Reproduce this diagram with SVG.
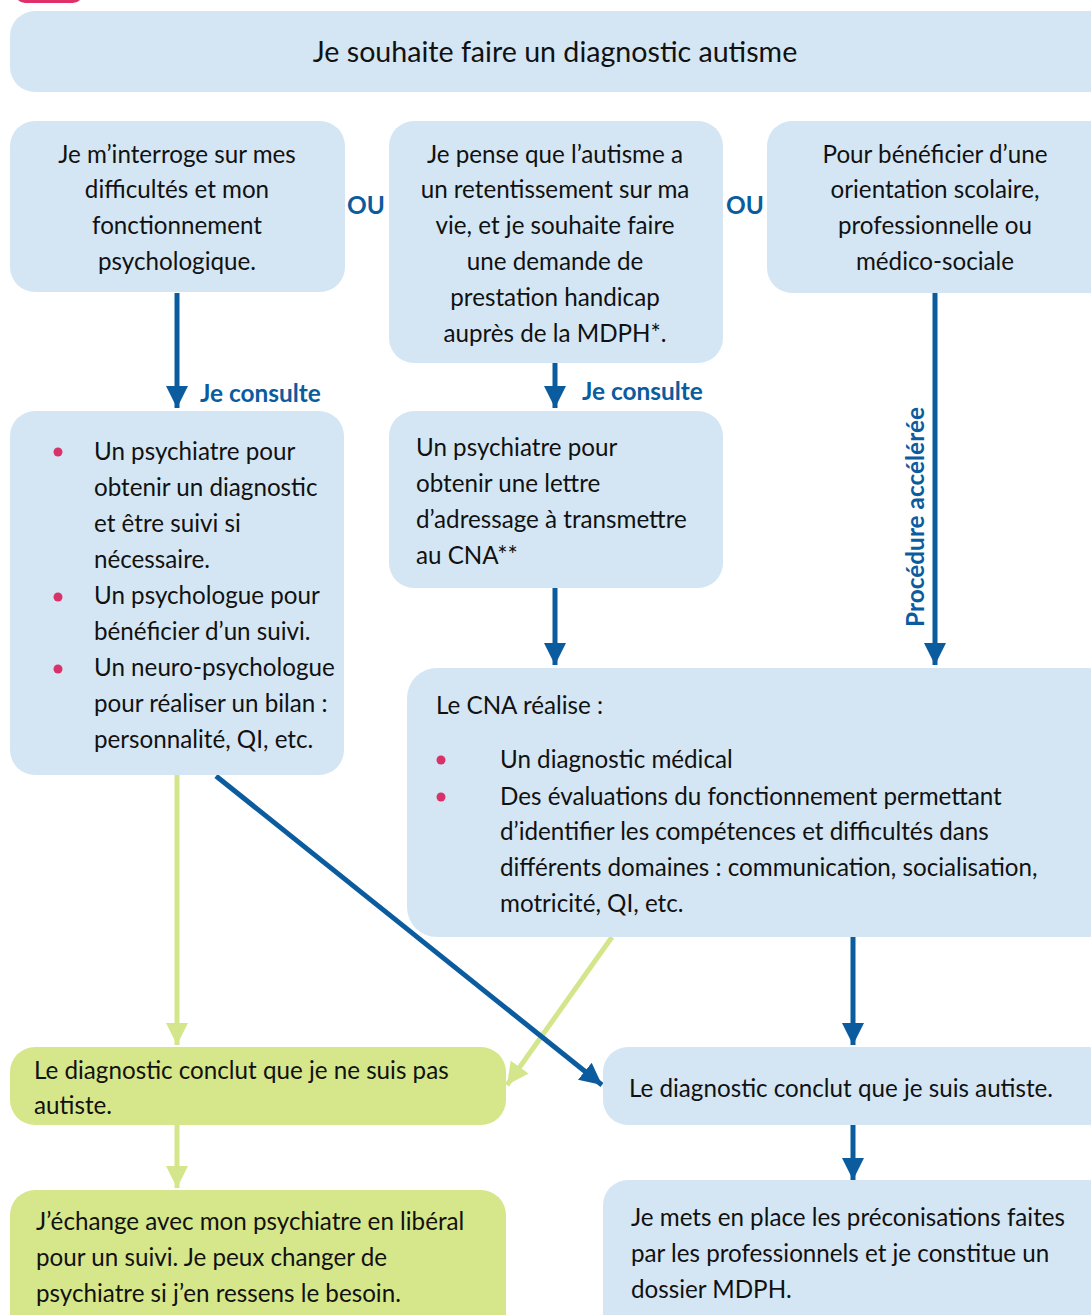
<svg xmlns="http://www.w3.org/2000/svg" width="1091" height="1315" viewBox="0 0 1091 1315">
<style>
.b{fill:#d4e6f4}
.g{fill:#d6e68a}
.t{font-family:Lato,"Liberation Sans",sans-serif;font-size:24.2px;fill:#111}
.c{text-anchor:middle}
.lbl{font-family:Lato,"Liberation Sans",sans-serif;font-size:24.4px;font-weight:bold;fill:#0b5c9e}
.db{stroke:#0b5c9e;stroke-width:5;fill:none}
.lg{stroke:#d4e68c;stroke-width:5;fill:none}
.dot{fill:#d9326a}
</style>
<defs>
<marker id="ab" markerUnits="userSpaceOnUse" markerWidth="24" markerHeight="24" viewBox="0 0 24 24" refX="22" refY="12" orient="auto"><path d="M0,1 L22,12 L0,23 Z" fill="#0b5c9e"/></marker>
<marker id="ag" markerUnits="userSpaceOnUse" markerWidth="24" markerHeight="24" viewBox="0 0 24 24" refX="22" refY="12" orient="auto"><path d="M0,1 L22,12 L0,23 Z" fill="#d4e68c"/></marker>
</defs>
<rect x="15" y="-20" width="68" height="23" rx="10" fill="#e0306a"/>
<g id="connectors">
<line class="db" x1="177" y1="293" x2="177" y2="408" marker-end="url(#ab)"/>
<line class="db" x1="555" y1="363" x2="555" y2="408" marker-end="url(#ab)"/>
<line class="db" x1="555" y1="588" x2="555" y2="665" marker-end="url(#ab)"/>
<line class="db" x1="935" y1="293" x2="935" y2="665" marker-end="url(#ab)"/>
<line class="lg" x1="177" y1="775" x2="177" y2="1045" marker-end="url(#ag)"/>
<line class="lg" x1="612" y1="937" x2="507" y2="1085" marker-end="url(#ag)"/>
<line class="db" x1="216" y1="776" x2="602" y2="1085" marker-end="url(#ab)"/>
<line class="db" x1="853" y1="937" x2="853" y2="1045" marker-end="url(#ab)"/>
<line class="db" x1="853" y1="1125" x2="853" y2="1180" marker-end="url(#ab)"/>
<line class="lg" x1="177" y1="1125" x2="177" y2="1188" marker-end="url(#ag)"/>
<text class="lbl" x="200" y="402">Je consulte</text>
<text class="lbl" x="582" y="400">Je consulte</text>
<text class="lbl" x="366" y="214" text-anchor="middle">OU</text>
<text class="lbl" x="745" y="214" text-anchor="middle">OU</text>
<text class="lbl" x="0" y="0" text-anchor="middle" transform="translate(924,517) rotate(-90)">Procédure accélérée</text>
</g>
<g id="top">
<rect class="b" x="10" y="11" width="1110" height="81" rx="25"/>
<text class="t c" x="555" y="62" style="font-size:28.6px">Je souhaite faire un diagnostic autisme</text>
</g>
<g id="boxA">
<rect class="b" x="10" y="121" width="335" height="171" rx="25"/>
<text class="t c" x="177" y="163">Je m’interroge sur mes</text>
<text class="t c" x="177" y="198">difficultés et mon</text>
<text class="t c" x="177" y="234">fonctionnement</text>
<text class="t c" x="177" y="270">psychologique.</text>
</g>
<g id="boxB">
<rect class="b" x="389" y="121" width="334" height="242" rx="25"/>
<text class="t c" x="555" y="163">Je pense que l’autisme a</text>
<text class="t c" x="555" y="198">un retentissement sur ma</text>
<text class="t c" x="555" y="234">vie, et je souhaite faire</text>
<text class="t c" x="555" y="270">une demande de</text>
<text class="t c" x="555" y="306">prestation handicap</text>
<text class="t c" x="555" y="342">auprès de la MDPH*.</text>
</g>
<g id="boxC">
<rect class="b" x="767" y="121" width="350" height="172" rx="25"/>
<text class="t c" x="935" y="163">Pour bénéficier d’une</text>
<text class="t c" x="935" y="198">orientation scolaire,</text>
<text class="t c" x="935" y="234">professionnelle ou</text>
<text class="t c" x="935" y="270">médico-sociale</text>
</g>
<g id="boxD">
<rect class="b" x="10" y="411" width="334" height="364" rx="25"/>
<circle class="dot" cx="58" cy="452" r="4.5"/>
<circle class="dot" cx="58" cy="597" r="4.5"/>
<circle class="dot" cx="58" cy="669" r="4.5"/>
<text class="t" x="94" y="460">Un psychiatre pour</text>
<text class="t" x="94" y="496">obtenir un diagnostic</text>
<text class="t" x="94" y="532">et être suivi si</text>
<text class="t" x="94" y="568">nécessaire.</text>
<text class="t" x="94" y="604">Un psychologue pour</text>
<text class="t" x="94" y="640">bénéficier d’un suivi.</text>
<text class="t" x="94" y="676">Un neuro-psychologue</text>
<text class="t" x="94" y="712">pour réaliser un bilan :</text>
<text class="t" x="94" y="748">personnalité, QI, etc.</text>
</g>
<g id="boxE">
<rect class="b" x="389" y="411" width="334" height="177" rx="25"/>
<text class="t" x="416" y="456">Un psychiatre pour</text>
<text class="t" x="416" y="492">obtenir une lettre</text>
<text class="t" x="416" y="528">d’adressage à transmettre</text>
<text class="t" x="416" y="564">au CNA**</text>
</g>
<g id="boxF">
<rect class="b" x="407" y="668" width="710" height="269" rx="30"/>
<text class="t" x="436" y="714">Le CNA réalise :</text>
<circle class="dot" cx="441" cy="760" r="4.5"/>
<circle class="dot" cx="441" cy="797" r="4.5"/>
<text class="t" x="500" y="768">Un diagnostic médical</text>
<text class="t" x="500" y="805">Des évaluations du fonctionnement permettant</text>
<text class="t" x="500" y="840">d’identifier les compétences et difficultés dans</text>
<text class="t" x="500" y="876">différents domaines : communication, socialisation,</text>
<text class="t" x="500" y="912">motricité, QI, etc.</text>
</g>
<g id="boxG">
<rect class="g" x="10" y="1047" width="496" height="78" rx="25"/>
<text class="t" x="34" y="1079">Le diagnostic conclut que je ne suis pas</text>
<text class="t" x="34" y="1114">autiste.</text>
</g>
<g id="boxH">
<rect class="b" x="603" y="1047" width="510" height="78" rx="25"/>
<text class="t" x="629" y="1097">Le diagnostic conclut que je suis autiste.</text>
</g>
<g id="boxI">
<rect class="g" x="10" y="1190" width="496" height="150" rx="25"/>
<text class="t" x="36" y="1230">J’échange avec mon psychiatre en libéral</text>
<text class="t" x="36" y="1266">pour un suivi. Je peux changer de</text>
<text class="t" x="36" y="1302">psychiatre si j’en ressens le besoin.</text>
</g>
<g id="boxJ">
<rect class="b" x="603" y="1180" width="510" height="160" rx="25"/>
<text class="t" x="631" y="1226">Je mets en place les préconisations faites</text>
<text class="t" x="631" y="1262">par les professionnels et je constitue un</text>
<text class="t" x="631" y="1298">dossier MDPH.</text>
</g>
</svg>
